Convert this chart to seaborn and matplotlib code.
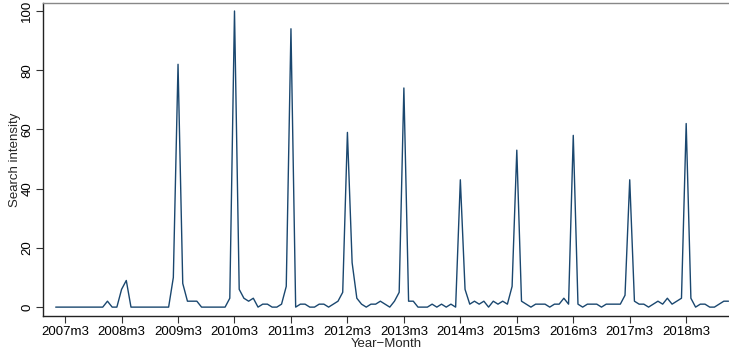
import matplotlib
matplotlib.use("Agg")
import matplotlib.pyplot as plt
import seaborn as sns
import pandas as pd

# Monthly search intensity, January 2007 to December 2018
year_2007 = [0, 0, 0, 0, 0, 0, 0, 0, 0, 0, 0, 2]
year_2008 = [0, 0, 6, 9, 0, 0, 0, 0, 0, 0, 0, 0]
year_2009 = [0, 10, 82, 8, 2, 2, 2, 0, 0, 0, 0, 0]
year_2010 = [0, 3, 100, 6, 3, 2, 3, 0, 1, 1, 0, 0]
year_2011 = [1, 7, 94, 0, 1, 1, 0, 0, 1, 1, 0, 1]
year_2012 = [2, 5, 59, 15, 3, 1, 0, 1, 1, 2, 1, 0]
year_2013 = [2, 5, 74, 2, 2, 0, 0, 0, 1, 0, 1, 0]
year_2014 = [1, 0, 43, 6, 1, 2, 1, 2, 0, 2, 1, 2]
year_2015 = [1, 7, 53, 2, 1, 0, 1, 1, 1, 0, 1, 1]
year_2016 = [3, 1, 58, 1, 0, 1, 1, 1, 0, 1, 1, 1]
year_2017 = [1, 4, 43, 2, 1, 1, 0, 1, 2, 1, 3, 1]
year_2018 = [2, 3, 62, 3, 0, 1, 1, 0, 0, 1, 2, 2]

years = list(range(2007, 2019))
tick_labels = [f"{y}m3" for y in years]
y_ticks = [0, 20, 40, 60, 80, 100]

series = (year_2007 + year_2008 + year_2009 + year_2010 + year_2011 + year_2012
          + year_2013 + year_2014 + year_2015 + year_2016 + year_2017 + year_2018)
df = pd.DataFrame({"month": range(len(series)), "intensity": series})

sns.set_theme(style="white")
plt.rcParams["font.family"] = ["Liberation Sans", "DejaVu Sans"]

fig = plt.figure(figsize=(7.29, 3.56), dpi=100)
W, H = 729, 356
left, right, top, bottom = 43, 729, 3, 316
ax = fig.add_axes([left / W, (H - bottom) / H, (right - left) / W, (bottom - top) / H])

sns.lineplot(data=df, x="month", y="intensity", ax=ax, color="#1a476f", linewidth=1.0)

ax.set_xlim(-2.7, 143.1)
ax.set_ylim(-3.0, 102.7)

# March of each year on the time axis
ax.set_xticks([(y - 2007) * 12 + 2 for y in years])
ax.set_xticklabels(tick_labels)
ax.set_yticks(y_ticks)
ax.set_yticklabels([str(v) for v in y_ticks], rotation=90, va="center")

ax.tick_params(axis="both", which="major", direction="out", length=5, width=0.8,
               color="#333333", labelsize=9.5, labelcolor="black", pad=2,
               bottom=True, left=True)

ax.set_xlabel("Year\u2212Month", fontsize=9.5, labelpad=0)
ax.set_ylabel("Search intensity", fontsize=9.5, labelpad=0)

for side in ["left", "bottom"]:
    ax.spines[side].set_color("#222222")
    ax.spines[side].set_linewidth(1.0)
ax.spines["top"].set_color("#888888")
ax.spines["top"].set_linewidth(1.0)
ax.spines["right"].set_visible(False)
ax.grid(False)

fig.savefig("out.png", dpi=100)
